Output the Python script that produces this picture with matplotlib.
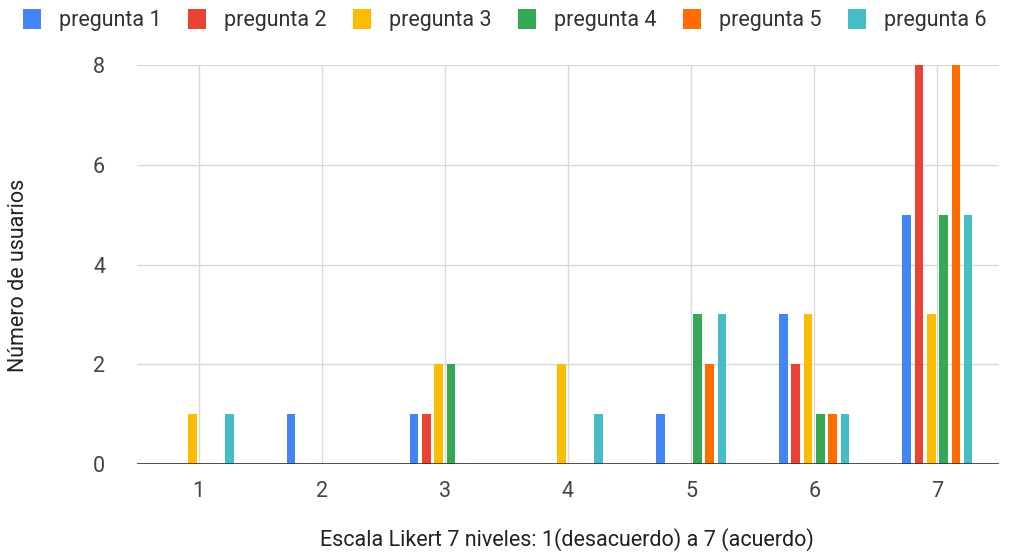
import matplotlib.pyplot as plt
import numpy as np

plt.rcParams['font.family'] = ['Roboto', 'DejaVu Sans']

categories = ['1', '2', '3', '4', '5', '6', '7']
series_names = ['pregunta 1', 'pregunta 2', 'pregunta 3', 'pregunta 4', 'pregunta 5', 'pregunta 6']
pregunta_1 = [0, 1, 1, 0, 1, 3, 5]
pregunta_2 = [0, 0, 1, 0, 0, 2, 8]
pregunta_3 = [1, 0, 2, 2, 0, 3, 3]
pregunta_4 = [0, 0, 2, 0, 3, 1, 5]
pregunta_5 = [0, 0, 0, 0, 2, 1, 8]
pregunta_6 = [1, 0, 0, 1, 3, 1, 5]
colors = ['#4285F4', '#EA4335', '#FBBC04', '#34A853', '#FF6D01', '#46BDC6']

series = [pregunta_1, pregunta_2, pregunta_3, pregunta_4, pregunta_5, pregunta_6]
fs = 15.5

fig = plt.figure(figsize=(10.16, 5.52), dpi=100)
ax = fig.add_axes([0.1348, 0.1594, 0.8484, 0.7228])

x = np.arange(len(categories))
step = 0.1
width = 0.07
for i, (vals, name, c) in enumerate(zip(series, series_names, colors)):
    ax.bar(x + (i - 2.5) * step, vals, width, color=c, label=name, zorder=3, clip_on=False)

ax.set_xlim(-0.5, len(categories) - 0.5)
ax.set_ylim(0, 8)
ax.set_xticks(x)
ax.set_xticklabels(categories)
ax.set_yticks([0, 2, 4, 6, 8])
ax.grid(True, color='#d9d9d9', linewidth=1, zorder=0)
ax.axhline(0, color='#333333', linewidth=1.2, zorder=4)
for s in ax.spines.values():
    s.set_visible(False)
ax.tick_params(length=0, labelsize=fs, colors='#444444')
ax.tick_params(axis='x', pad=12)
ax.tick_params(axis='y', pad=23)

ax.set_ylabel('Número de usuarios', fontsize=fs, color='#222222', va='center')
ax.yaxis.set_label_coords(-0.137, 0.474)
ax.set_xlabel('Escala Likert 7 niveles: 1(desacuerdo) a 7 (acuerdo)', fontsize=fs,
              color='#222222', va='center')
ax.xaxis.set_label_coords(0.499, -0.19)

fig.legend(loc='upper left', bbox_to_anchor=(0.004, 1.018), ncol=6, frameon=False,
           fontsize=fs, handlelength=0.8, handleheight=1.0, columnspacing=1.25,
           handletextpad=0.85, labelcolor='#333333')

fig.savefig('out.png', dpi=100)
